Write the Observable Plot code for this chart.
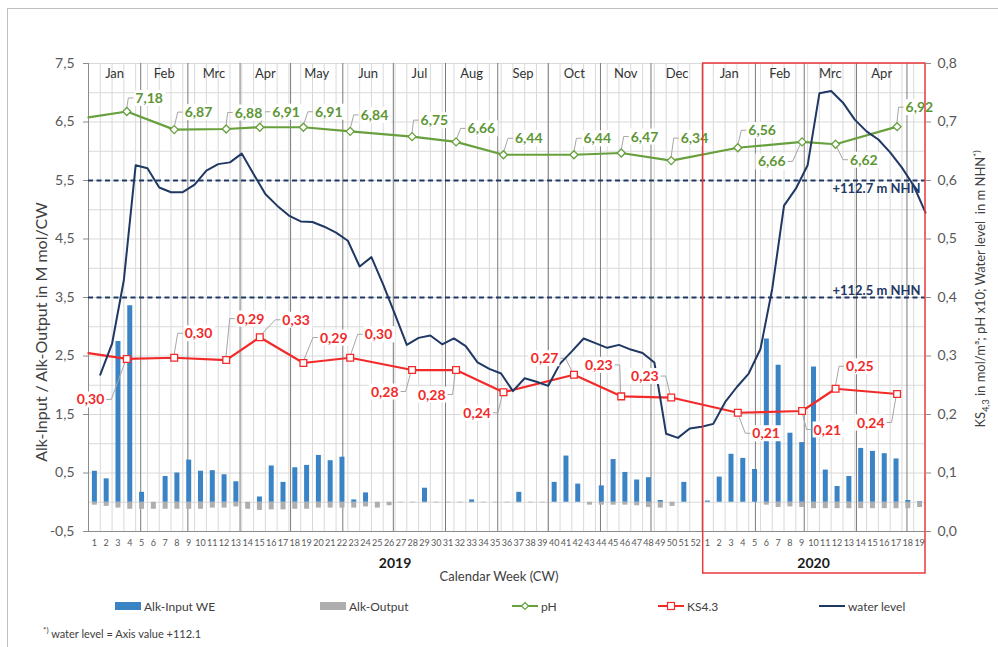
<!DOCTYPE html>
<html><head><meta charset="utf-8">
<script src="https://cdn.jsdelivr.net/npm/d3@7"></script>
<script src="https://cdn.jsdelivr.net/npm/@observablehq/plot@0.6"></script>
<style>
body{margin:0;background:#fff;font-family:Lato,"Open Sans",sans-serif;overflow:hidden;}
#wrap{position:relative;width:998px;height:647px;overflow:hidden;}
#border{position:absolute;left:7px;top:8px;width:1200px;height:1000px;border:1px solid #bfbfbf;}
#chart{position:absolute;left:0;top:0;}
.ytitle{position:absolute;transform:translate(-50%,-50%) rotate(-90deg);white-space:nowrap;color:#404040;}
#ytitle1{left:40px;top:332px;font-size:16px;}
#ytitle2{left:981px;top:289px;font-size:13px;}
#ytitle2 sub,#ytitle2 sup{font-size:9px;}
.leg{position:absolute;top:598px;height:16px;display:flex;align-items:center;font-size:12px;color:#404040;white-space:nowrap;}
.leg svg{margin-right:2px;}
#foot{position:absolute;left:43px;top:625px;font-size:11px;color:#404040;white-space:nowrap;}
#foot sup{font-size:8px;}
</style></head><body>
<div id="wrap">
<div id="border"></div>
<div id="chart"></div>
<div id="ytitle1" class="ytitle">Alk-Input / Alk-Output in M mol/CW</div>
<div id="ytitle2" class="ytitle">KS<sub>4,3</sub> in mol/m³; pH x10; Water level&nbsp; in m NHN<sup>*)</sup></div>
<div id="legend"></div>
<div id="foot"><sup>*)</sup> water level = Axis value +112.1</div>
</div>
<script>
// ---------------- data ----------------
const weekLabels2019 = d3.range(1, 53).map(String);
const weekLabels2020 = d3.range(1, 20).map(String);
const weekLabels = [...weekLabels2019, ...weekLabels2020];
const yearLabels = ["2019", "2020"];
const monthNames = ["Jan","Feb","Mrc","Apr","May","Jun","Jul","Aug","Sep","Oct","Nov","Dec","Jan","Feb","Mrc","Apr"];
const monthDays = [31,28,31,30,31,30,31,31,30,31,30,31, 31,29,31,30];

// Alk-Input WE (M mol/CW), one per calendar week
const alkInput = [
  0.53,0.40,2.75,3.36,0.17,0,0.44,0.50,0.72,0.53,0.54,0.47,0.35,0,0.09,0.62,0.34,0.59,0.63,0.80,
  0.71,0.77,0.04,0.16,0,0,0,0,0.24,0,0,0,0.04,0,0,0,0.17,0,0,0.34,
  0.79,0.31,0,0.28,0.73,0.51,0.38,0.42,0.03,0,0.34,0,
  0.02,0.43,0.82,0.75,0.56,2.79,2.34,1.18,1.02,2.31,0.55,0.27,0.44,0.92,0.87,0.83,0.74,0.03,0.01
];
// Alk-Output (M mol/CW)
const alkOutput = [
  -0.05,-0.07,-0.10,-0.12,-0.12,-0.12,-0.12,-0.12,-0.12,-0.12,-0.10,-0.10,-0.08,-0.12,-0.14,-0.13,-0.13,-0.12,-0.12,-0.10,
  -0.10,-0.10,-0.10,-0.08,-0.10,-0.06,-0.01,-0.01,-0.01,-0.01,-0.01,-0.01,-0.01,-0.01,-0.01,-0.01,-0.01,-0.01,-0.01,0,
  0,0,-0.05,-0.05,-0.05,-0.05,-0.06,-0.09,-0.10,-0.07,0,0,
  0,0,0,0,0,-0.05,-0.09,-0.08,-0.09,-0.11,-0.11,-0.11,-0.11,-0.11,-0.11,-0.11,-0.11,-0.11,-0.09
];
// water level (m above 112.1), end of each week
const waterLevel = [
  0.268,0.321,0.430,0.626,0.621,0.588,0.580,0.580,0.593,0.617,0.628,0.631,0.646,0.611,0.577,0.557,0.540,0.530,0.529,0.521,
  0.511,0.497,0.453,0.469,0.422,0.371,0.319,0.331,0.335,0.320,0.330,0.317,0.289,0.278,0.270,0.240,0.262,0.256,0.249,0.287,
  0.308,0.330,0.322,0.314,0.319,0.311,0.305,0.289,0.167,0.160,0.176,0.179,0.184,0.221,0.247,0.270,0.312,0.415,0.557,0.586,
  0.626,0.749,0.753,0.733,0.704,0.684,0.670,0.648,0.622,0.591,0.545
];
// sampling dates (in calendar weeks since 1 Jan 2019)
const sampleWeek = [0, 3.25,7.27,11.68,14.53,18.23,22.2,27.45,31.18,35.2,41.18,45.19,49.43,55.08,60.53,63.37,68.59];
const pH =        [7.08, 7.18,6.87,6.88,6.91,6.91,6.84,6.75,6.66,6.44,6.44,6.47,6.34,6.56,6.66,6.62,6.92];
const pHLabels =  [null,"7,18","6,87","6,88","6,91","6,91","6,84","6,75","6,66","6,44","6,44","6,47","6,34","6,56","6,66","6,62","6,92"];
const ks =        [0.305, 0.295,0.297,0.293,0.332,0.288,0.297,0.276,0.276,0.238,0.268,0.231,0.229,0.203,0.206,0.244,0.235];
const ksLabels =  [null,"0,30","0,30","0,29","0,33","0,29","0,30","0,28","0,28","0,24","0,27","0,23","0,23","0,21","0,21","0,25","0,24"];
const refLevels = [0.6, 0.4];
const refLabels = ["+112.7 m NHN", "+112.5 m NHN"];

// label placement (style): [dx, dy, side]
const pHPlace = [null,[9,-13,1],[11,-17,1],[9,-16,1],[13,-15,1],[12,-15,1],[11,-16,1],[9,-16,1],[12,-13,1],[12,-16,1],[10,-16,1],[10,-16,1],[10,-22,1],[11,-17,1],[-16,20,-1],[15,16,1],[9,-19,1]];
const ksPlace = [null,[-22,41,-1],[11,-24,1],[11,-41,1],[23,-17,1],[17,-25,1],[15,-23,1],[-13,22,-1],[-10,25,-1],[-12,21,-1],[-15,-16,-1],[-8,-31,-1],[-12,-21,-1],[15,21,1],[12,19,1],[11,-22,1],[-12,29,-1]];

// ---------------- derived tables ----------------
const C = {blue:"#3a84c6", gray:"#aeaeae", green:"#68a03d", greenT:"#5d9634", red:"#f22a2a", navy:"#1f3864", grid:"#d9d9d9", dark:"#7a7a7a", text:"#404040"};
const weeks = weekLabels.map((label, i) => ({i, x: i + 0.5, label, input: alkInput[i], output: alkOutput[i]}));
const water = waterLevel.map((w, j) => ({x: j + 1, y: w * 10 - 0.5}));
const samples = sampleWeek.map((x, k) => ({x, ph: pH[k] - 0.5, ks: ks[k] * 10 - 0.5, phLabel: pHLabels[k], ksLabel: ksLabels[k], phPlace: pHPlace[k], ksPlace: ksPlace[k]}));
const labeled = samples.filter(d => d.phLabel);
const monthStarts = [0, ...d3.cumsum(monthDays).map(d => d / 7)];
const months = monthNames.map((m, k) => ({m, x: (monthStarts[k] + monthStarts[k + 1]) / 2}));
const jan2020 = monthStarts[12];
const innerMonthLines = monthStarts.filter((s, k) => k > 0 && k !== 12);
const years = [{y: yearLabels[0], x: 26}, {y: yearLabels[1], x: 52 + 19 / 2}];
const yTicks = d3.range(-0.5, 7.51, 1);
const yGrid = d3.range(-0.5, 7.51, 0.5);
const comma = v => v.toFixed(1).replace(".", ",");

function callouts(field, labelField, placeField, color, mode) {
  return (index, scales) => {
    const g = d3.create("svg:g");
    for (const d of labeled) {
      const px = scales.x(d.x), py = scales.y(d[field]);
      const [dx, dy, side] = d[placeField];
      const tx = px + dx, ty = py + dy;
      const text = d[labelField];
      const w = text.length * 7.3;
      if (mode === "leader") {
        g.append("path").attr("d", `M${px},${py}L${tx - side * 7},${ty}L${tx - side * 2},${ty}`)
          .attr("fill", "none").attr("stroke", "#a6a6a6").attr("stroke-width", 1);
      } else {
        g.append("rect").attr("x", side > 0 ? tx - 1 : tx - w - 1).attr("y", ty - 8).attr("width", w + 2).attr("height", 16).attr("fill", "white");
        g.append("text").attr("x", tx).attr("y", ty).attr("dy", "0.36em")
          .attr("text-anchor", side > 0 ? "start" : "end").attr("fill", color)
          .attr("font-weight", "bold").attr("font-size", 14).text(text);
      }
    }
    return g.node();
  };
}

const plot = Plot.plot({
  width: 998, height: 590,
  marginLeft: 88, marginRight: 73, marginTop: 63, marginBottom: 59,
  x: {domain: [0, 71]},
  y: {domain: [-0.5, 7.5]},
  style: {fontFamily: "Lato, 'Open Sans', sans-serif", background: "transparent", color: C.text},
  marks: [
    Plot.ruleY(yGrid, {stroke: C.grid}),
    Plot.ruleX(d3.range(1, 71), {stroke: C.grid}),
    Plot.ruleX(innerMonthLines, {stroke: C.dark}),
    Plot.ruleX([0], {stroke: "#8c8c8c"}),
    Plot.ruleY([-0.5], {stroke: "#8c8c8c"}),
    Plot.text(months, {x: "x", y: 7.5, text: "m", dy: 10, fontSize: 13, fill: "#333"}),
    Plot.ruleX(weeks, {x: "x", y1: 0, y2: "output", stroke: C.gray, strokeWidth: 5}),
    Plot.ruleX(weeks, {x: "x", y1: 0, y2: "input", stroke: C.blue, strokeWidth: 5}),
    Plot.ruleY(refLevels, {y: d => d * 10 - 0.5, stroke: C.navy, strokeWidth: 1.8, strokeDasharray: "5,3.5"}),
    Plot.text([0], {y: refLevels[0] * 10 - 0.5, text: () => refLabels[0], frameAnchor: "right", textAnchor: "end", dx: -5, dy: 8, fill: C.navy, fontWeight: "bold", fontSize: 13}),
    Plot.text([0], {y: refLevels[1] * 10 - 0.5, text: () => refLabels[1], frameAnchor: "right", textAnchor: "end", dx: -5, dy: -7, fill: C.navy, fontWeight: "bold", fontSize: 13}),
    callouts("ph", "phLabel", "phPlace", C.greenT, "leader"),
    callouts("ks", "ksLabel", "ksPlace", C.red, "leader"),
    Plot.line(samples, {x: "x", y: "ph", stroke: C.green, strokeWidth: 2.2}),
    Plot.dot(labeled, {x: "x", y: "ph", symbol: "diamond2", r: 3.6, stroke: C.green, fill: "white", strokeWidth: 1.3}),
    Plot.line(samples, {x: "x", y: "ks", stroke: C.red, strokeWidth: 2.2}),
    Plot.dot(labeled, {x: "x", y: "ks", symbol: "square2", r: 4.3, stroke: C.red, fill: "white", strokeWidth: 1.3}),
    Plot.line(water, {x: "x", y: "y", stroke: C.navy, strokeWidth: 2}),
    callouts("ph", "phLabel", "phPlace", C.greenT, "label"),
    callouts("ks", "ksLabel", "ksPlace", C.red, "label"),
    Plot.rect([0], {x1: jan2020, x2: 71, y1: -0.5, y2: 7.5, insetBottom: -42, stroke: "#e8393c", strokeWidth: 1.5, fill: "none"}),
    Plot.axisY({ticks: yTicks, tickFormat: comma, tickSize: 5, tickPadding: 9, fontSize: 14, stroke: "#8c8c8c", fill: "#595959", label: null}),
    Plot.axisY({anchor: "right", ticks: yTicks, tickFormat: v => comma((v + 0.5) / 10), tickSize: 5, tickPadding: 7, fontSize: 14, stroke: "#8c8c8c", fill: "#595959", label: null}),
    Plot.axisX({ticks: weeks.map(d => d.x), tickFormat: v => weekLabels[Math.floor(v)], tickSize: 0, tickPadding: 8, fontSize: 9, fill: "#595959", label: null}),
    Plot.text(years, {x: "x", y: -0.5, text: "y", dy: 32, fontWeight: "bold", fontSize: 14, fill: "#1a1a1a"}),
    Plot.text(["Calendar Week (CW)"], {frameAnchor: "bottom", dx: -8, dy: 49, fontSize: 13, fill: C.text})
  ]
});
document.getElementById("chart").appendChild(plot);

// ---------------- legend ----------------
const legendItems = [
  {label: "Alk-Input WE", left: 115, kind: "box", color: C.blue},
  {label: "Alk-Output", left: 320, kind: "box", color: C.gray},
  {label: "pH", left: 512, kind: "diamond", color: C.green},
  {label: "KS4.3", left: 658, kind: "square", color: C.red},
  {label: "water level", left: 819, kind: "line", color: C.navy}
];
const leg = d3.select("#legend");
for (const it of legendItems) {
  const div = leg.append("div").attr("class", "leg").style("left", it.left + "px");
  const s = div.append("svg").attr("width", 27).attr("height", 16);
  if (it.kind === "box") s.append("rect").attr("x", 0).attr("y", 4).attr("width", 26).attr("height", 8).attr("fill", it.color);
  else {
    s.append("line").attr("x1", 0).attr("x2", 26).attr("y1", 8).attr("y2", 8).attr("stroke", it.color).attr("stroke-width", 2);
    if (it.kind === "diamond") s.append("path").attr("d", "M13,4.5L16.5,8L13,11.5L9.5,8Z").attr("fill", "white").attr("stroke", it.color).attr("stroke-width", 1.2);
    if (it.kind === "square") s.append("rect").attr("x", 9.5).attr("y", 4.5).attr("width", 7).attr("height", 7).attr("fill", "white").attr("stroke", it.color).attr("stroke-width", 1.2);
  }
  div.append("span").text(it.label);
}
</script>
</body></html>
